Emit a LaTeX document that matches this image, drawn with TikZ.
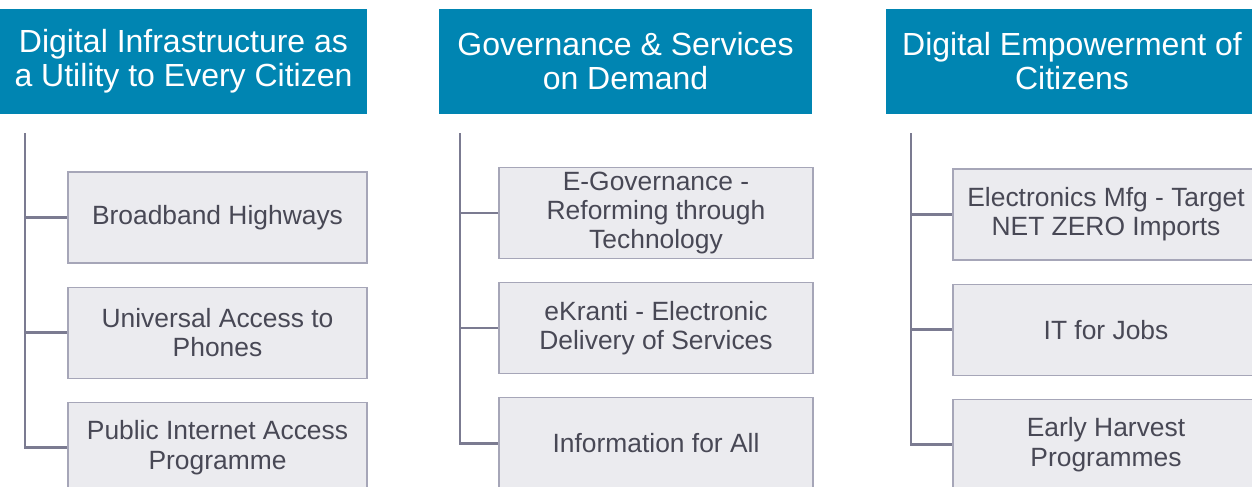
\documentclass[tikz,border=0pt]{standalone}
\usepackage{fontspec}
\setmainfont{Liberation Sans}
\usetikzlibrary{positioning}
\definecolor{headblue}{HTML}{0085B2}
\definecolor{boxfill}{HTML}{EBEBEF}
\definecolor{boxline}{HTML}{A6A6B8}
\definecolor{linkgray}{HTML}{7B7B91}
\definecolor{textgray}{HTML}{484855}
\tikzset{
  head/.style={fill=headblue, text=white, align=center, inner sep=0pt,
    minimum height=78.75pt, font=\fontsize{24}{25.5}\selectfont},
  item/.style={draw=boxline, fill=boxfill, text=textgray, align=center,
    inner sep=0pt, line width=0.8pt, minimum height=68.25pt,
    font=\fontsize{19.8}{21.8}\selectfont},
  link/.style={draw=linkgray, line width=2.1pt}
}
\begin{document}
\begin{tikzpicture}[x=0.75pt, y=-0.75pt]
\useasboundingbox (0,0) rectangle (1252,486);
% headers
\node[head, minimum width=275.25pt] (h1) at (183.5,61) {Digital Infrastructure as\\a Utility to Every Citizen};
\node[head, minimum width=279.75pt] (h2) at (625.5,61) {Governance \& Services\\on Demand};
\node[head, minimum width=279pt] (h3) at (1072,61) {Digital Empowerment of\\Citizens};
% first column
\node[item, minimum width=224.25pt] (b11) at (217.5,217.5) {Broadband Highways};
\node[item, minimum width=224.25pt, below=17.25pt of b11] (b12) {Universal Access to\\Phones};
\node[item, minimum width=224.25pt, below=17.25pt of b12] (b13) {Public Internet Access\\Programme};
% second column
\node[item, minimum width=235.5pt] (b21) at (656,213) {E-Governance -\\Reforming through\\Technology};
\node[item, minimum width=235.5pt, below=17.25pt of b21] (b22) {eKranti - Electronic\\Delivery of Services};
\node[item, minimum width=235.5pt, below=17.25pt of b22] (b23) {Information for All};
% third column
\node[item, minimum width=229.5pt] (b31) at (1106,214.5) {Electronics Mfg - Target\\NET ZERO Imports};
\node[item, minimum width=229.5pt, below=17.25pt of b31] (b32) {IT for Jobs};
\node[item, minimum width=229.5pt, below=17.25pt of b32] (b33) {Early Harvest\\Programmes};
% tree lines
\coordinate (t1) at (25,133);
\coordinate (t2) at (460,133);
\coordinate (t3) at (911,133);
\foreach \c in {1,2,3}{
  \draw[link] (t\c) |- (b\c3.west);
  \draw[link] (t\c |- b\c1.west) -- (b\c1.west);
  \draw[link] (t\c |- b\c2.west) -- (b\c2.west);
}
\end{tikzpicture}
\end{document}
